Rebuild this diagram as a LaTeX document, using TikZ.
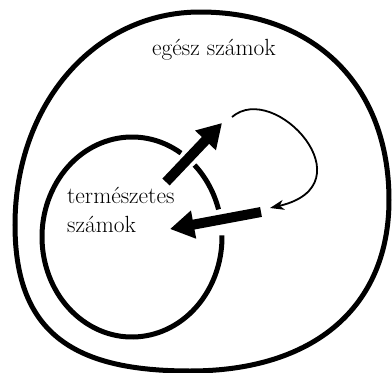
\documentclass[tikz,border=0pt]{standalone}
\usepackage{fontspec}
\usetikzlibrary{arrows.meta}
\tikzset{
  setline/.style={line width=5pt},
  bigarrow/.style={line width=10pt, -{Triangle[length=24pt,width=27pt]}},
  thinarrow/.style={line width=1.8pt, -{Stealth[length=14pt,width=10pt,inset=4pt]}},
  setlabel/.style={inner sep=0pt, font=\rmfamily\fontsize{23.4}{29}\selectfont}
}
\begin{document}
\begin{tikzpicture}[x=1pt,y=-1pt]
\useasboundingbox (0,0) rectangle (392,373);

% integers: the outer closed curve, one cubic per quarter
\coordinate (zt) at (200,12);
\coordinate (zr) at (389,200);
\coordinate (zb) at (190,371);
\coordinate (zl) at (15,225);
\draw[setline] (zt) .. controls (314,12) and (389,85) .. (zr)
  .. controls (389,307) and (314,371) .. (zb)
  .. controls (76,371) and (15,335) .. (zl)
  .. controls (15,104) and (95,12) .. (zt) -- cycle;

% natural numbers: the inner ellipse, broken where the arrows pass
\coordinate (nc) at (132,237);
\draw[setline] (nc) ++(57:90pt and 100pt) arc[start angle=57, end angle=361, x radius=90pt, y radius=100pt];
\draw[setline] (nc) ++(16:90pt and 100pt) arc[start angle=16, end angle=46, x radius=90pt, y radius=100pt];

% labels
\node[setlabel, anchor=base] (zset) at (214,55) {egész számok};
\node[setlabel, anchor=base west, align=left] (nset) at (67,232) {természetes\\számok};

% arrows
\coordinate (outA) at (166,182);
\coordinate (outB) at (222,123);
\coordinate (backA) at (232,117);
\coordinate (backB) at (270,208);
\coordinate (inA) at (261,212);
\coordinate (inB) at (170,229);
\draw[bigarrow] (outA) -- (outB);
\draw[thinarrow] (backA) .. controls (275,80) and (370,185) .. (backB);
\draw[bigarrow] (inA) -- (inB);
\end{tikzpicture}
\end{document}
